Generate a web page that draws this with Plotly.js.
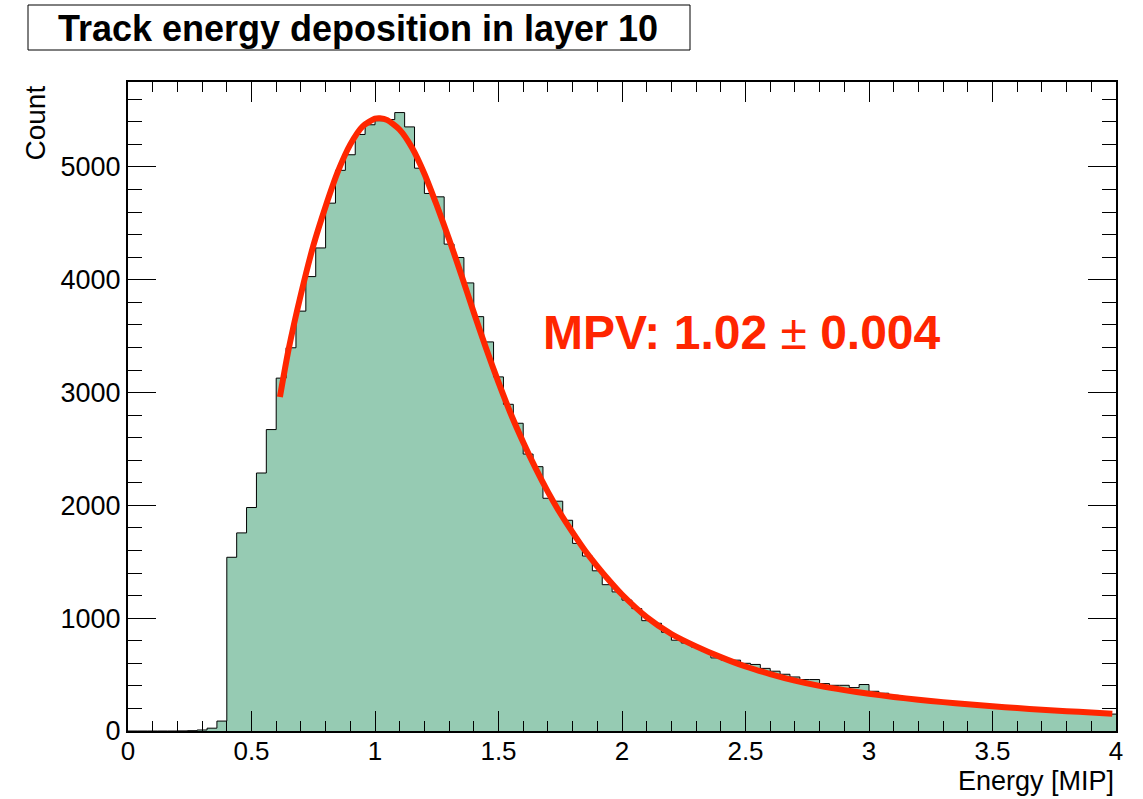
<!DOCTYPE html>
<html>
<head>
<meta charset="utf-8">
<script src="https://cdn.plot.ly/plotly-3.0.1.min.js"></script>
<style>html,body{margin:0;padding:0;background:#fff;}#chart{width:1143px;height:799px;}</style>
</head>
<body>
<div id="chart"></div>
<script>
// Histogram: 100 bins of width 0.04 from 0 to 4 (Energy [MIP])
const binStart = 0;
const binWidth = 0.04;
const counts = [
  0, 0, 0, 0, 0, 1, 3, 9, 25, 88,
  1540, 1756, 1981, 2287, 2672, 3128, 3397, 3722, 4028, 4282,
  4679, 4970, 5108, 5288, 5374, 5410, 5420, 5482, 5355, 4989,
  4765, 4735, 4316, 4197, 3972, 3673, 3449, 3139, 2896, 2728,
  2455, 2343, 2063, 2037, 1868, 1663, 1551, 1420, 1297, 1233,
  1160, 1085, 978, 955, 875, 805, 780, 745, 710, 648,
  630, 628, 600, 590, 555, 530, 503, 479, 456, 456,
  420, 405, 405, 385, 412, 352, 335, 316, 302, 290,
  282, 270, 262, 250, 246, 232, 228, 218, 212, 206,
  198, 193, 186, 180, 176, 170, 166, 160, 156, 150
];

// Landau fit curve
const fitX = [0.615,0.65,0.70,0.75,0.80,0.85,0.90,0.95,1.00,1.02,1.05,1.10,1.15,1.20,1.25,1.30,1.35,1.40,1.45,1.50,1.55,1.60,1.65,1.70,1.75,1.80,1.85,1.90,1.95,2.00,2.10,2.20,2.30,2.40,2.50,2.60,2.70,2.80,2.90,3.00,3.10,3.20,3.30,3.40,3.50,3.60,3.70,3.80,3.90,3.985];
const fitY = [2960,3380,3870,4300,4650,4960,5200,5360,5428,5432,5415,5330,5170,4940,4660,4360,4040,3710,3390,3090,2810,2560,2330,2120,1930,1760,1600,1460,1330,1210,1010,860,750,655,572,505,447,400,362,330,302,277,256,237,219,203,189,176,164,153];

const xTickVals = [0, 0.5, 1, 1.5, 2, 2.5, 3, 3.5, 4];
const xTickText = ['0', '0.5', '1', '1.5', '2', '2.5', '3', '3.5', '4'];
const yTickVals = [0, 1000, 2000, 3000, 4000, 5000];
const yTickText = ['0', '1000', '2000', '3000', '4000', '5000'];

const titleText = "Track energy deposition in layer 10";
const xTitle = "Energy [MIP]";
const yTitle = "Count";
const mpvText = "MPV: 1.02 <span style='font-weight:normal'>\u00B1</span> 0.004";

// step outline: left edges + final right edge
const stepX = counts.map((c, i) => binStart + i * binWidth);
stepX.push(binStart + counts.length * binWidth);
const stepY = counts.slice();
stepY.push(counts[counts.length - 1]);

const FONT = '"Liberation Sans", Arial, Helvetica, sans-serif';
const RED = 'rgb(255,38,0)';

const traces = [
  {
    type: 'scatter', mode: 'lines',
    x: stepX, y: stepY,
    line: {shape: 'hv', color: '#000', width: 1},
    fill: 'tozeroy', fillcolor: 'rgb(150,203,179)',
    hoverinfo: 'skip', showlegend: false
  },
  {
    type: 'scatter', mode: 'lines',
    x: fitX, y: fitY,
    line: {shape: 'spline', smoothing: 0.6, color: RED, width: 6},
    hoverinfo: 'skip', showlegend: false
  }
];

const layout = {
  width: 1143, height: 799,
  margin: {l: 128, r: 27, t: 82, b: 68},
  paper_bgcolor: '#fff', plot_bgcolor: '#fff',
  font: {family: FONT, color: '#000', size: 27},
  showlegend: false,
  title: {
    text: '<b>' + titleText + '</b>',
    font: {family: FONT, size: 36, color: '#000'},
    xref: 'container', yref: 'container',
    x: 358 / 1143, y: 1 - 28 / 799, xanchor: 'center', yanchor: 'middle'
  },
  xaxis: {
    range: [0, 4], tickmode: 'array', tickvals: xTickVals, ticktext: xTickText,
    ticks: 'inside', ticklen: 20, tickwidth: 1, tickcolor: '#000',
    minor: {dtick: 0.1, tick0: 0, ticks: 'inside', ticklen: 10, tickwidth: 1, tickcolor: '#000', showgrid: false},
    showline: true, linecolor: '#000', linewidth: 2, mirror: 'allticks',
    showgrid: false, zeroline: false, ticklabelstandoff: -4,
    tickfont: {family: FONT, size: 26, color: '#000'}
  },
  yaxis: {
    range: [0, 5753], tickmode: 'array', tickvals: yTickVals, ticktext: yTickText,
    ticks: 'inside', ticklen: 28, tickwidth: 1, tickcolor: '#000',
    minor: {dtick: 200, tick0: 0, ticks: 'inside', ticklen: 14, tickwidth: 1, tickcolor: '#000', showgrid: false},
    showline: true, linecolor: '#000', linewidth: 2, mirror: 'allticks',
    showgrid: false, zeroline: false,
    tickfont: {family: FONT, size: 27, color: '#000'}
  },
  shapes: [{
    type: 'rect', xref: 'paper', yref: 'paper',
    x0: (28 - 128) / 988, x1: (690 - 128) / 988,
    y0: (731 - 50) / 649, y1: (731 - 5) / 649,
    line: {color: '#000', width: 1}, fillcolor: 'rgba(0,0,0,0)', layer: 'below'
  }],
  annotations: [
    {
      text: yTitle, textangle: -90, showarrow: false,
      xref: 'paper', yref: 'paper',
      x: (35 - 128) / 988, y: 1 - (84 - 82) / 649,
      xanchor: 'center', yanchor: 'top',
      font: {family: FONT, size: 28, color: '#000'}
    },
    {
      text: xTitle, showarrow: false,
      xref: 'paper', yref: 'paper',
      x: 1, y: (731 - 781) / 649,
      xanchor: 'right', yanchor: 'middle',
      font: {family: FONT, size: 27, color: '#000'}
    },
    {
      text: '<b>' + mpvText + '</b>', showarrow: false,
      xref: 'paper', yref: 'paper',
      x: (742 - 128) / 988, y: (731 - 332) / 649,
      xanchor: 'center', yanchor: 'middle',
      font: {family: FONT, size: 48, color: RED}
    }
  ]
};

Plotly.newPlot('chart', traces, layout, {displayModeBar: false, staticPlot: true});
</script>
</body>
</html>
